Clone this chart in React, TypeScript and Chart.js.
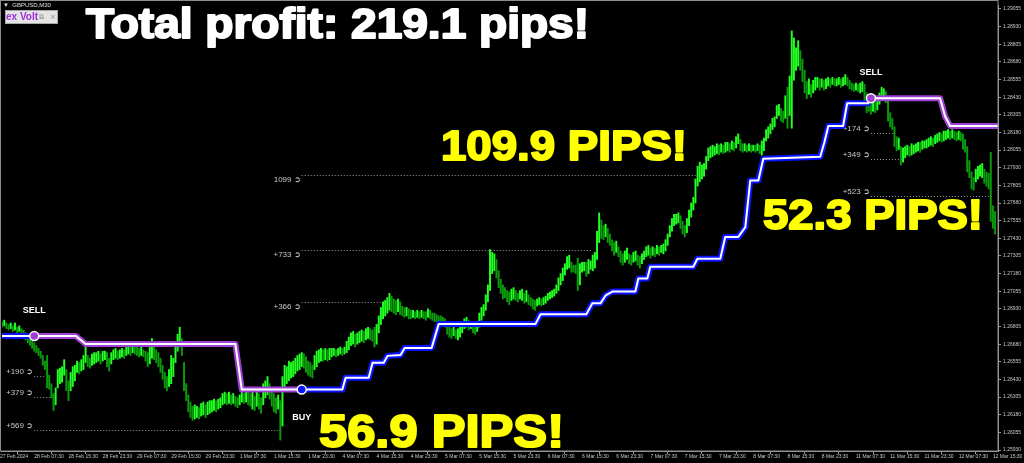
import React, { useEffect, useRef } from 'react';
import { Chart, registerables } from 'chart.js';

Chart.register(...registerables);

// ---- axis labels ----
const xTickBars = [0, 16, 32, 48, 64, 80, 96, 112, 128, 144, 160, 176, 192, 208, 224, 240, 256, 272, 288, 304, 320, 336, 352, 368, 384, 400, 416, 432, 448, 464];
const xTickLabels = ['27 Feb 2024', '28 Feb 07:30', '28 Feb 15:30', '28 Feb 23:30', '29 Feb 07:30', '29 Feb 15:30', '29 Feb 23:30', '1 Mar 07:30', '1 Mar 15:30', '1 Mar 23:30', '4 Mar 07:30', '4 Mar 15:30', '4 Mar 23:30', '5 Mar 07:30', '5 Mar 15:30', '5 Mar 23:30', '6 Mar 07:30', '6 Mar 15:30', '6 Mar 23:30', '7 Mar 07:30', '7 Mar 15:30', '7 Mar 23:30', '8 Mar 07:30', '8 Mar 15:30', '8 Mar 23:30', '11 Mar 07:30', '11 Mar 15:30', '11 Mar 23:30', '12 Mar 07:30', '12 Mar 15:30'];
const yTicks = [1.2593, 1.26055, 1.2618, 1.26305, 1.2643, 1.26555, 1.2668, 1.26805, 1.2693, 1.27055, 1.2718, 1.27305, 1.2743, 1.27555, 1.2768, 1.27805, 1.2793, 1.28055, 1.2818, 1.28305, 1.2843, 1.28555, 1.2868, 1.28805, 1.2893, 1.29055];

// ---- GBPUSD M30 bars: low / high ----
const lows = [
  1.2681, 1.2680, 1.2681, 1.2679, 1.2678, 1.2679, 1.2677, 1.2678, 1.2676, 1.2677,
  1.2675, 1.2673, 1.2671, 1.2669, 1.2667, 1.2665, 1.2663, 1.2662, 1.2660, 1.2658,
  1.2653, 1.2650, 1.2637, 1.2636, 1.2630, 1.2621, 1.2625, 1.2637, 1.2640, 1.2641,
  1.2646, 1.2635, 1.2628, 1.2635, 1.2638, 1.2642, 1.2648, 1.2647, 1.2649, 1.2650,
  1.2655, 1.2652, 1.2651, 1.2653, 1.2654, 1.2655, 1.2656, 1.2654, 1.2656, 1.2657,
  1.2652, 1.2649, 1.2654, 1.2657, 1.2658, 1.2657, 1.2658, 1.2659, 1.2658, 1.2660,
  1.2661, 1.2660, 1.2662, 1.2661, 1.2660, 1.2659, 1.2660, 1.2659, 1.2656, 1.2652,
  1.2654, 1.2658, 1.2657, 1.2655, 1.2652, 1.2648, 1.2643, 1.2637, 1.2635, 1.2638,
  1.2640, 1.2645, 1.2655, 1.2663, 1.2666, 1.2660, 1.2635, 1.2628, 1.2620, 1.2616,
  1.2614, 1.2615, 1.2616, 1.2615, 1.2617, 1.2618, 1.2616, 1.2618, 1.2619, 1.2620,
  1.2621, 1.2620, 1.2622, 1.2623, 1.2625, 1.2626, 1.2625, 1.2626, 1.2625, 1.2626,
  1.2624, 1.2623, 1.2625, 1.2627, 1.2626, 1.2627, 1.2625, 1.2624, 1.2622, 1.2621,
  1.2624, 1.2622, 1.2619, 1.2625, 1.2630, 1.2632, 1.2629, 1.2624, 1.2620, 1.2619,
  1.2622, 1.2600, 1.2610, 1.2637, 1.2640, 1.2642, 1.2644, 1.2645, 1.2647, 1.2649,
  1.2650, 1.2652, 1.2651, 1.2648, 1.2646, 1.2645, 1.2644, 1.2650, 1.2652, 1.2655,
  1.2656, 1.2656, 1.2657, 1.2656, 1.2657, 1.2659, 1.2660, 1.2659, 1.2660, 1.2661,
  1.2660, 1.2661, 1.2662, 1.2664, 1.2667, 1.2668, 1.2666, 1.2668, 1.2669, 1.2670,
  1.2669, 1.2671, 1.2672, 1.2671, 1.2670, 1.2666, 1.2668, 1.2676, 1.2682, 1.2686,
  1.2688, 1.2690, 1.2692, 1.2691, 1.2690, 1.2689, 1.2691, 1.2689, 1.2688, 1.2687,
  1.2688, 1.2686, 1.2686, 1.2687, 1.2686, 1.2687, 1.2686, 1.2687, 1.2686, 1.2685,
  1.2687, 1.2686, 1.2685, 1.2684, 1.2684, 1.2683, 1.2682, 1.2682, 1.2680, 1.2675,
  1.2673, 1.2672, 1.2674, 1.2672, 1.2671, 1.2673, 1.2676, 1.2679, 1.2680, 1.2678,
  1.2679, 1.2676, 1.2675, 1.2677, 1.2680, 1.2685, 1.2688, 1.2692, 1.2698, 1.2706,
  1.2718, 1.2720, 1.2715, 1.2708, 1.2704, 1.2700, 1.2701, 1.2698, 1.2696, 1.2699,
  1.2700, 1.2699, 1.2698, 1.2700, 1.2699, 1.2697, 1.2698, 1.2696, 1.2695, 1.2693,
  1.2692, 1.2695, 1.2696, 1.2695, 1.2696, 1.2697, 1.2699, 1.2700, 1.2701, 1.2702,
  1.2704, 1.2706, 1.2710, 1.2713, 1.2717, 1.2721, 1.2722, 1.2719, 1.2719, 1.2718,
  1.2706, 1.2710, 1.2719, 1.2720, 1.2716, 1.2718, 1.2721, 1.2720, 1.2722, 1.2728,
  1.2740, 1.2743, 1.2742, 1.2744, 1.2740, 1.2738, 1.2734, 1.2731, 1.2733, 1.2730,
  1.2726, 1.2724, 1.2726, 1.2728, 1.2725, 1.2724, 1.2726, 1.2727, 1.2724, 1.2722,
  1.2725, 1.2728, 1.2730, 1.2731, 1.2729, 1.2731, 1.2730, 1.2732, 1.2731, 1.2733,
  1.2732, 1.2734, 1.2738, 1.2744, 1.2748, 1.2752, 1.2753, 1.2754, 1.2750,
  1.2746, 1.2744, 1.2747, 1.2752, 1.2758, 1.2763, 1.2768, 1.2780, 1.2783, 1.2785,
  1.2787, 1.2792, 1.2798, 1.2800, 1.2801, 1.2802, 1.2803, 1.2802, 1.2804, 1.2803,
  1.2804, 1.2805, 1.2804, 1.2806, 1.2805, 1.2807, 1.2810, 1.2805, 1.2804, 1.2805,
  1.2804, 1.2805, 1.2804, 1.2805, 1.2804, 1.2805, 1.2803, 1.2802, 1.2805, 1.2812,
  1.2814, 1.2817, 1.2820, 1.2822, 1.2828, 1.2830, 1.2826, 1.2825, 1.2828, 1.2821,
  1.2830, 1.2821, 1.2855, 1.2862, 1.2865, 1.2862, 1.2854, 1.2846, 1.2842, 1.2845,
  1.2843, 1.2846, 1.2848, 1.2850, 1.2848, 1.2850, 1.2848, 1.2849, 1.2851, 1.2850,
  1.2852, 1.2851, 1.2851, 1.2852, 1.2850, 1.2851, 1.2852, 1.2851, 1.2849,
  1.2848, 1.2847, 1.2848, 1.2847, 1.2846, 1.2847, 1.2840, 1.2832, 1.2833, 1.2831,
  1.2833, 1.2832, 1.2834, 1.2838, 1.2841, 1.2842, 1.2839, 1.2826, 1.2822, 1.2820,
  1.2808, 1.2805, 1.2806, 1.2795, 1.2797, 1.2800, 1.2802, 1.2801, 1.2802, 1.2803,
  1.2804, 1.2805, 1.2804, 1.2806, 1.2807, 1.2807, 1.2808, 1.2809, 1.2808, 1.2810,
  1.2811, 1.2812, 1.2811, 1.2812, 1.2813, 1.2814, 1.2813, 1.2814, 1.2813, 1.2812,
  1.2813, 1.2812, 1.2806, 1.2804, 1.2790, 1.2786, 1.2778, 1.2777, 1.2783, 1.2785,
  1.2787, 1.2786, 1.2782, 1.2780, 1.2778, 1.2755, 1.2750, 1.2746,
];
const highs = [
  1.2685, 1.2684, 1.2685, 1.2683, 1.2682, 1.2683, 1.2681, 1.2683, 1.2680, 1.2681,
  1.2679, 1.2678, 1.2676, 1.2674, 1.2672, 1.2670, 1.2669, 1.2667, 1.2665, 1.2663,
  1.2660, 1.2656, 1.2660, 1.2646, 1.2640, 1.2633, 1.2637, 1.2650, 1.2651, 1.2652,
  1.2657, 1.2650, 1.2642, 1.2648, 1.2652, 1.2653, 1.2656, 1.2655, 1.2657, 1.2660,
  1.2668, 1.2660, 1.2658, 1.2661, 1.2662, 1.2662, 1.2663, 1.2661, 1.2663, 1.2663,
  1.2662, 1.2658, 1.2662, 1.2664, 1.2665, 1.2663, 1.2664, 1.2665, 1.2664, 1.2666,
  1.2667, 1.2666, 1.2668, 1.2667, 1.2666, 1.2665, 1.2666, 1.2664, 1.2663, 1.2662,
  1.2666, 1.2672, 1.2666, 1.2664, 1.2662, 1.2658, 1.2653, 1.2648, 1.2645, 1.2650,
  1.2660, 1.2658, 1.2670, 1.2675, 1.2680, 1.2672, 1.2655, 1.2640, 1.2632, 1.2627,
  1.2624, 1.2625, 1.2624, 1.2623, 1.2626, 1.2627, 1.2625, 1.2627, 1.2628, 1.2628,
  1.2629, 1.2628, 1.2629, 1.2630, 1.2633, 1.2634, 1.2633, 1.2634, 1.2632, 1.2633,
  1.2631, 1.2630, 1.2632, 1.2635, 1.2633, 1.2634, 1.2635, 1.2633, 1.2636, 1.2631,
  1.2635, 1.2633, 1.2630, 1.2640, 1.2642, 1.2645, 1.2640, 1.2635, 1.2633, 1.2630,
  1.2632, 1.2628, 1.2645, 1.2653, 1.2652, 1.2656, 1.2655, 1.2656, 1.2658, 1.2660,
  1.2661, 1.2662, 1.2661, 1.2659, 1.2656, 1.2655, 1.2653, 1.2660, 1.2663, 1.2664,
  1.2665, 1.2664, 1.2665, 1.2664, 1.2665, 1.2665, 1.2665, 1.2664, 1.2665, 1.2666,
  1.2665, 1.2666, 1.2670, 1.2673, 1.2676, 1.2677, 1.2675, 1.2676, 1.2677, 1.2678,
  1.2677, 1.2679, 1.2680, 1.2679, 1.2678, 1.2680, 1.2682, 1.2688, 1.2694, 1.2698,
  1.2699, 1.2701, 1.2704, 1.2702, 1.2700, 1.2699, 1.2700, 1.2698, 1.2695, 1.2694,
  1.2694, 1.2693, 1.2692, 1.2692, 1.2691, 1.2692, 1.2691, 1.2692, 1.2691, 1.2691,
  1.2693, 1.2692, 1.2690, 1.2690, 1.2689, 1.2688, 1.2688, 1.2687, 1.2686, 1.2683,
  1.2680, 1.2679, 1.2680, 1.2678, 1.2679, 1.2682, 1.2683, 1.2686, 1.2687, 1.2685,
  1.2684, 1.2684, 1.2682, 1.2683, 1.2690, 1.2694, 1.2696, 1.2703, 1.2710, 1.2735,
  1.2733, 1.2732, 1.2728, 1.2720, 1.2714, 1.2710, 1.2708, 1.2706, 1.2705, 1.2707,
  1.2708, 1.2706, 1.2704, 1.2706, 1.2707, 1.2704, 1.2706, 1.2703, 1.2701, 1.2700,
  1.2699, 1.2700, 1.2701, 1.2700, 1.2701, 1.2702, 1.2704, 1.2705, 1.2706, 1.2707,
  1.2710, 1.2715, 1.2718, 1.2722, 1.2725, 1.2730, 1.2731, 1.2726, 1.2724, 1.2724,
  1.2729, 1.2725, 1.2726, 1.2726, 1.2726, 1.2728, 1.2727, 1.2731, 1.2733, 1.2748,
  1.2761, 1.2756, 1.2752, 1.2753, 1.2750, 1.2746, 1.2742, 1.2740, 1.2741, 1.2737,
  1.2734, 1.2732, 1.2734, 1.2736, 1.2732, 1.2731, 1.2733, 1.2734, 1.2731, 1.2730,
  1.2732, 1.2734, 1.2737, 1.2738, 1.2736, 1.2737, 1.2736, 1.2738, 1.2737, 1.2738,
  1.2739, 1.2742, 1.2746, 1.2752, 1.2757, 1.2760, 1.2760, 1.2761, 1.2759,
  1.2755, 1.2752, 1.2757, 1.2763, 1.2768, 1.2772, 1.2785, 1.2794, 1.2797, 1.2795,
  1.2796, 1.2801, 1.2807, 1.2808, 1.2809, 1.2808, 1.2810, 1.2809, 1.2810, 1.2809,
  1.2811, 1.2811, 1.2810, 1.2812, 1.2811, 1.2815, 1.2817, 1.2813, 1.2810, 1.2810,
  1.2809, 1.2810, 1.2809, 1.2809, 1.2809, 1.2810, 1.2809, 1.2812, 1.2814, 1.2820,
  1.2822, 1.2824, 1.2828, 1.2829, 1.2837, 1.2838, 1.2835, 1.2833, 1.2844, 1.2850,
  1.2858, 1.2890, 1.2885, 1.2878, 1.2883, 1.2876, 1.2870, 1.2862, 1.2854, 1.2856,
  1.2852, 1.2855, 1.2857, 1.2857, 1.2856, 1.2856, 1.2855, 1.2856, 1.2857, 1.2856,
  1.2857, 1.2856, 1.2856, 1.2857, 1.2856, 1.2857, 1.2859, 1.2857, 1.2855,
  1.2853, 1.2852, 1.2853, 1.2852, 1.2853, 1.2854, 1.2852, 1.2846, 1.2844, 1.2841,
  1.2842, 1.2840, 1.2843, 1.2846, 1.2850, 1.2849, 1.2847, 1.2840, 1.2832, 1.2828,
  1.2822, 1.2815, 1.2814, 1.2808, 1.2807, 1.2808, 1.2809, 1.2808, 1.2810, 1.2809,
  1.2810, 1.2811, 1.2811, 1.2812, 1.2812, 1.2813, 1.2814, 1.2815, 1.2814, 1.2816,
  1.2817, 1.2818, 1.2817, 1.2819, 1.2819, 1.2820, 1.2819, 1.2820, 1.2819, 1.2818,
  1.2819, 1.2818, 1.2817, 1.2813, 1.2808, 1.2798, 1.2790, 1.2786, 1.2792, 1.2794,
  1.2795, 1.2796, 1.2792, 1.2790, 1.2789, 1.2804, 1.2766, 1.2762,
];

// ---- trailing stop line (bar index, price) ----
const trailBars = [0, 16, 35.5, 40, 110, 113, 141, 160, 161.5, 172.3, 174.1, 179.3, 181.1, 187.2, 189.1, 201.7, 205, 250.2, 252.6, 274, 276.8, 280.6, 283, 286.2, 296.9, 298.3, 302.5, 303.9, 324, 325.9, 336.6, 338.9, 345, 348.3, 350.6, 354.4, 356.7, 383.3, 385.2, 387.1, 394, 395.9, 405.7, 407, 439.3, 441.6, 444, 467];
const trailPrices = [1.26737, 1.26737, 1.26737, 1.26681, 1.26681, 1.26358, 1.26358, 1.26358, 1.26442, 1.26442, 1.26548, 1.26548, 1.26597, 1.26604, 1.26653, 1.26653, 1.26822, 1.26822, 1.26892, 1.26892, 1.26969, 1.26969, 1.27025, 1.27053, 1.27053, 1.27145, 1.27145, 1.27229, 1.27229, 1.27285, 1.27285, 1.27439, 1.27439, 1.27509, 1.2784, 1.2784, 1.27994, 1.28008, 1.28107, 1.28226, 1.28226, 1.28387, 1.28387, 1.28423, 1.28423, 1.28296, 1.28226, 1.28226];

// ---- signals ----
const signalBars = [16, 141, 407];
const signalPrices = [1.26737, 1.26358, 1.28423];
const signalSides = ['SELL', 'BUY', 'SELL'];
const initialSide = 'BUY';

// ---- take-profit levels ----
const levelLabels = ['+190', '+379', '+569', '1099', '+733', '+366', '+174', '+349', '+523'];
const levelPrices = [1.26456, 1.26309, 1.2607, 1.27882, 1.27348, 1.26978, 1.28177, 1.27994, 1.27727];
const levelSignal = [0, 0, 0, 1, 1, 1, 2, 2, 2];
const levelEndBars = [21.5, 24.7, 131.2, 327.3, 276.8, 181.6, 418.3, 421.6, 463.6];

// ---- overlay captions ----
const captions = [
  { text: 'Total profit: 219.1 pips!', color: '#ffffff', left: 85, base: 39, width: 505, cap: 30 },
  { text: '109.9 PIPS!', color: '#ffff00', left: 440, base: 161, width: 248, cap: 31 },
  { text: '52.3 PIPS!', color: '#ffff00', left: 762, base: 230, width: 222, cap: 30 },
  { text: '56.9 PIPS!', color: '#ffff00', left: 318, base: 448, width: 247, cap: 33 },
];

const BLUE = '#0a14ff';
const PURPLE = '#a03fd8';
const sideAt = (x: number) => {
  let s = initialSide;
  for (let k = 0; k < signalBars.length; k++) if (x >= signalBars[k]) s = signalSides[k];
  return s;
};
const sideColor = (s: string) => (s === 'SELL' ? PURPLE : BLUE);

const overlayPlugin = {
  id: 'overlay',
  beforeDraw(chart: any) {
    const ctx = chart.ctx;
    ctx.save();
    ctx.fillStyle = '#000000';
    ctx.fillRect(0, 0, chart.width, chart.height);
    ctx.restore();
  },
  beforeDatasetsDraw(chart: any) {
    const ctx = chart.ctx;
    const xs = chart.scales.x;
    const ys = chart.scales.y;
    ctx.save();
    levelLabels.forEach((lab, k) => {
      const s = levelSignal[k];
      const x0 = xs.getPixelForValue(signalBars[s]);
      const x1 = xs.getPixelForValue(levelEndBars[k]);
      const y = Math.round(ys.getPixelForValue(levelPrices[k])) + 0.5;
      ctx.strokeStyle = '#9a9a9a';
      ctx.lineWidth = 1;
      ctx.setLineDash([1, 2]);
      ctx.beginPath();
      ctx.moveTo(x0, y);
      ctx.lineTo(x1, y);
      ctx.stroke();
      ctx.setLineDash([]);
      ctx.fillStyle = '#c8c8c8';
      ctx.font = '8px "Liberation Sans", sans-serif';
      ctx.textAlign = 'right';
      ctx.textBaseline = 'middle';
      const ty = signalSides[s] === 'SELL' ? y - 5 : y + 4;
      ctx.fillText(lab + ' \u27B2', x0 - 1, ty);
    });
    ctx.restore();
  },
  afterDatasetsDraw(chart: any) {
    const ctx = chart.ctx;
    const xs = chart.scales.x;
    const ys = chart.scales.y;
    ctx.save();
    signalBars.forEach((b, k) => {
      const x = xs.getPixelForValue(b);
      const y = ys.getPixelForValue(signalPrices[k]);
      ctx.beginPath();
      ctx.arc(x, y, 4.5, 0, Math.PI * 2);
      ctx.fillStyle = sideColor(signalSides[k]);
      ctx.fill();
      ctx.lineWidth = 1.5;
      ctx.strokeStyle = '#ffffff';
      ctx.stroke();
      ctx.fillStyle = '#ffffff';
      ctx.font = 'bold 9px "Liberation Sans", sans-serif';
      ctx.textAlign = 'center';
      ctx.textBaseline = 'middle';
      ctx.fillText(signalSides[k], x, signalSides[k] === 'SELL' ? y - 26 : y + 28);
    });
    ctx.restore();
  },
  afterDraw(chart: any) {
    const ctx = chart.ctx;
    const a = chart.chartArea;
    ctx.save();
    ctx.strokeStyle = '#8c8c8c';
    ctx.lineWidth = 1;
    ctx.strokeRect(0.5, 0.5, a.right - 0.5, a.bottom - 0.5);
    ctx.fillStyle = '#e0e0e0';
    ctx.font = '6px "Liberation Sans", sans-serif';
    ctx.textAlign = 'left';
    ctx.textBaseline = 'middle';
    ctx.fillText('\u25BC  GBPUSD,M30', 3, 5);
    ctx.fillStyle = '#e4e4e4';
    ctx.fillRect(5, 10, 53, 14);
    ctx.strokeStyle = '#a8a8a8';
    ctx.strokeRect(5.5, 10.5, 52, 13);
    ctx.fillStyle = '#9b2fe0';
    ctx.font = 'bold 10px "Liberation Sans", sans-serif';
    ctx.fillText('ex Volt', 6, 17.5);
    ctx.fillStyle = '#8a8a8a';
    ctx.font = '7px "DejaVu Sans", sans-serif';
    ctx.fillText('\u29C9', 39, 17);
    ctx.fillText('\u00D7', 50, 17);
    captions.forEach((c) => {
      const size = c.cap / 0.716;
      ctx.font = `bold ${size}px "Liberation Sans", Arial, sans-serif`;
      ctx.textAlign = 'left';
      ctx.textBaseline = 'alphabetic';
      const w = ctx.measureText(c.text).width;
      ctx.save();
      ctx.translate(c.left + 1, c.base - 1);
      ctx.scale((c.width - 2) / w, 1);
      ctx.fillStyle = c.color;
      ctx.strokeStyle = c.color;
      ctx.lineWidth = 2;
      ctx.lineJoin = 'round';
      ctx.fillText(c.text, 0, 0);
      ctx.strokeText(c.text, 0, 0);
      ctx.restore();
    });
    ctx.restore();
  },
};

export default function App() {
  const ref = useRef<HTMLCanvasElement | null>(null);
  useEffect(() => {
    if (!ref.current) return;
    const barData = lows.map((lo, i) => ({ x: i, y: [lo, highs[i]] }));
    const barColors = lows.map((lo, i) => {
      const mid = (lo + highs[i]) / 2;
      const prev = i > 0 ? (lows[i - 1] + highs[i - 1]) / 2 : mid;
      return mid >= prev ? '#22ff22' : '#0b9a0b';
    });
    const trail = trailBars.map((b, k) => ({ x: b, y: trailPrices[k] }));
    const axisColor = '#9a9a9a';
    const chart = new Chart(ref.current, {
      type: 'bar',
      data: {
        datasets: [
          {
            type: 'line',
            data: trail,
            borderColor: '#ffffff',
            borderWidth: 2,
            pointRadius: 0,
            tension: 0,
            borderJoinStyle: 'round',
            borderCapStyle: 'round',
            order: 1,
          } as any,
          {
            type: 'line',
            data: trail,
            borderColor: BLUE,
            borderWidth: 6,
            pointRadius: 0,
            tension: 0,
            borderJoinStyle: 'round',
            borderCapStyle: 'round',
            segment: { borderColor: (c: any) => sideColor(sideAt(c.p0.parsed.x)) },
            order: 2,
          } as any,
          {
            type: 'bar',
            data: barData,
            backgroundColor: barColors,
            barThickness: 1.3,
            grouped: false,
            order: 3,
          } as any,
        ],
      },
      options: {
        responsive: false,
        animation: false,
        devicePixelRatio: 1,
        layout: { padding: { left: 1, top: 1, right: 0, bottom: 0 } },
        plugins: { legend: { display: false }, tooltip: { enabled: false } },
        scales: {
          x: {
            type: 'linear',
            min: 0.93,
            max: 466.38,
            offset: false,
            afterFit: (s: any) => { s.height = 12; },
            afterBuildTicks: (s: any) => { s.ticks = xTickBars.map((v) => ({ value: v })); },
            ticks: {
              autoSkip: false,
              maxRotation: 0,
              minRotation: 0,
              align: 'start',
              padding: 0,
              color: '#c8c8c8',
              font: { size: 5, family: '"Liberation Sans", sans-serif' },
              callback: (_v: any, i: number) => xTickLabels[i],
            },
            grid: { drawOnChartArea: false, drawTicks: true, tickLength: 3, color: axisColor },
            border: { display: true, color: axisColor },
          },
          y: {
            type: 'linear',
            position: 'right',
            min: 1.25923,
            max: 1.29083,
            afterFit: (s: any) => { s.width = 26; },
            afterBuildTicks: (s: any) => { s.ticks = yTicks.map((v) => ({ value: v })); },
            ticks: {
              autoSkip: false,
              padding: 2,
              color: '#c8c8c8',
              font: { size: 5, family: '"Liberation Sans", sans-serif' },
              callback: (v: any) => Number(v).toFixed(5),
            },
            grid: { drawOnChartArea: false, drawTicks: true, tickLength: 3, color: axisColor },
            border: { display: true, color: axisColor },
          },
        },
      } as any,
      plugins: [overlayPlugin],
    });
    return () => chart.destroy();
  }, []);
  return (
    <div style={{ position: 'fixed', left: 0, top: 0, width: 1024, height: 463, background: '#000' }}>
      <canvas ref={ref} width={1024} height={463} style={{ display: 'block', width: 1024, height: 463 }} />
    </div>
  );
}
